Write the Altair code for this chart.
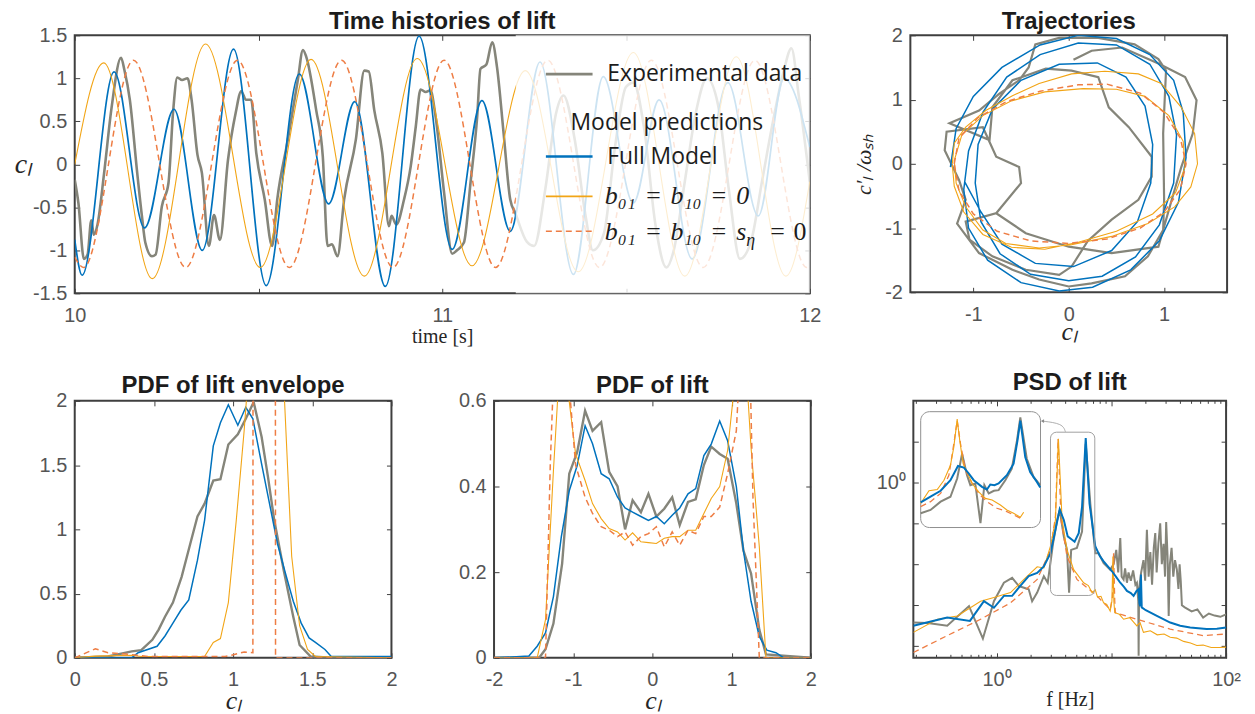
import altair as alt
import pandas as pd

# ---------------- colours ----------------
C_EXP = '#85857a'
C_FULL = '#0072bd'
C_B0 = '#f2a516'
C_BS = '#ee7d44'
FRAME = '#3f3f3f'
TXT = '#555555'
DARK = '#1c1c1c'

# ================= DATA =================
# --- Time histories of lift (t [s], c_l) ---
th_exp_t = [10.000,10.010,10.025,10.035,10.045,10.052,10.062,10.080,10.100,10.126,10.135,10.150,10.170,10.183,10.192,
            10.210,10.220,10.237,10.255,10.268,10.279,10.292,10.307,10.318,10.334,10.346,10.365,10.379,10.395,10.417,
            10.438,10.453,10.466,10.480,10.494,10.517,10.537,10.551,10.580,10.607,10.621,10.630,10.657,10.675,10.688,
            10.700,10.715,10.733,10.765,10.788,10.800,10.815,10.837,10.855,10.862,10.875,10.896,10.914,10.928,10.941,
            10.955,10.968,10.982,11.005,11.027,11.040,11.059,11.077,11.095,11.104,11.120,11.136,11.149,11.167,11.185,
            11.199,11.23,11.25,11.28,11.31,11.33,11.36,11.39,11.41,11.44,11.47,11.50,11.52,11.55,11.58,11.61,11.63,
            11.66,11.69,11.72,11.75,11.78,11.81,11.84,11.87,11.90,11.93,11.95,11.97,12.00]
th_exp_y = [-0.18,-0.45,-1.10,-1.05,-0.65,-0.82,-0.70,-0.10,0.65,1.24,1.10,0.75,-0.10,-0.61,-0.91,
            -1.07,-1.05,-0.49,-0.22,0.63,1.01,0.98,1.00,0.75,0.11,-0.10,-0.95,-0.59,-0.88,0.05,
            0.60,0.85,0.75,0.75,0.13,-0.41,-0.95,-0.41,0.29,0.98,1.33,1.25,0.63,0.09,-0.95,
            -0.93,-1.07,-0.41,0.29,1.09,1.08,0.63,0.13,-0.72,-0.60,-0.70,-0.41,-0.03,0.44,0.87,
            0.84,0.86,0.55,-0.33,-1.04,-1.00,-0.91,-0.21,0.55,1.11,1.16,1.42,1.13,0.36,-0.41,
            -0.57,-0.90,-0.95,-0.30,0.60,0.80,0.30,-0.60,-1.00,-0.80,0.20,0.90,0.95,0.40,-0.70,-1.20,-1.00,
            -0.20,0.60,1.00,0.70,-0.30,-1.10,-0.90,-0.20,0.50,1.10,1.35,0.80,-0.20]
th_full_t = [10.000,10.020,10.107,10.190,10.270,10.347,10.432,10.521,10.611,10.691,10.762,10.845,10.937,
             11.027,11.108,11.185,11.266,11.357,11.438,11.520,11.590,11.680,11.777,11.860,11.930,12.000]
th_full_y = [-0.875,-1.29,1.075,-0.74,0.64,-1.00,1.34,-1.41,1.05,-0.46,0.73,-1.42,1.49,
             -0.99,0.74,-0.78,1.19,-1.28,1.02,-0.45,0.75,-1.10,0.95,-0.60,1.00,0.20]
th_b0_t = [10.000,10.079,10.211,10.356,10.505,10.643,10.788,10.932,11.081,11.226,11.370,11.520,11.660,11.800,11.935,12.000]
th_b0_y = [0.00,1.18,-1.33,1.40,-1.20,1.22,-1.30,1.23,-1.18,1.09,-1.25,1.30,-1.30,1.25,-1.30,-0.20]
th_bs_t = [10.000,10.024,10.160,10.302,10.443,10.584,10.726,10.866,11.005,11.145,11.287,11.428,11.569,11.710,11.851,11.992,12.000]
th_bs_y = [-1.08,-1.20,1.21,-1.20,1.21,-1.20,1.21,-1.20,1.21,-1.20,1.21,-1.20,1.21,-1.20,1.21,-1.20,-1.19]
th_legend_box_t = [11.2, 12.0]
th_legend_box_y = [-1.5, 1.5]
leg_line_t = [11.282, 11.409]
leg_line_y = [1.048, 0.09, -0.373, -0.778]
leg_text_t = 11.449
leg_head_pos = (11.611, 0.477)
leg_math_t = 11.4425
leg_math_y = [-0.458, -0.875]

# --- Trajectories (c_l, c_l'/omega_sh) ---
traj_exp = [(-0.76,-0.77),(-0.50,-0.30),(-0.52,-0.05),(-0.76,0.11),(-0.90,0.57),(-1.28,0.50),(-1.30,0.21),(-1.15,-0.25),
            (-1.08,-0.56),(-1.17,-0.93),(-0.94,-1.39),(-0.59,-1.65),(-0.31,-1.80),(0.00,-1.91),(0.24,-1.86),(0.59,-1.75),
            (0.83,-1.44),(0.99,-1.03),(1.00,-0.56),(0.99,0.47),(1.02,1.45),(0.94,1.63),(0.69,1.86),(0.31,1.96),(-0.10,1.96),
            (-0.35,1.86),(-0.42,1.50),(-0.52,1.30),(-0.73,1.09),(-0.94,0.83),(-1.25,0.63),(-0.83,0.37),(-0.80,0.88),
            (-0.59,1.30),(-0.24,1.48),(0.03,1.45),(0.31,1.35),(0.42,0.88),(0.63,0.57),(0.87,0.11),(0.87,-0.20),(0.73,-0.56),
            (0.45,-0.87),(0.20,-1.20),(0.03,-1.60),(-0.10,-1.73),(-0.45,-1.65),(-0.80,-1.44),(-1.04,-1.18),(-1.08,-0.90),
            (-0.76,-0.77),(-0.45,-1.08),(0.00,-1.29),(0.45,-1.39),(0.94,-1.29),(1.08,-0.56),(1.18,-0.05),(1.30,0.47),
            (1.34,0.99),(1.22,1.35),(0.94,1.56),(0.56,1.81),(0.24,1.76),(0.05,1.62)]
traj_full = [(-1.24,-0.05),(-1.18,0.55),(-1.00,1.05),(-0.70,1.50),(-0.30,1.85),(0.10,2.00),(0.50,1.95),(0.85,1.70),
             (1.10,1.30),(1.20,0.80),(1.23,0.10),(1.15,-0.60),(0.95,-1.20),(0.65,-1.65),(0.25,-1.92),(-0.10,-1.98),
             (-0.50,-1.85),(-0.85,-1.50),(-1.05,-1.00),(-1.10,-0.40),(-1.05,0.20),(-0.90,0.80),(-0.65,1.35),(-0.30,1.70),
             (0.10,1.88),(0.50,1.85),(0.85,1.55),(1.05,1.05),(1.13,0.45),(1.10,-0.30),(0.95,-0.95),(0.70,-1.45),
             (0.35,-1.75),(0.00,-1.82),(-0.40,-1.72),(-0.72,-1.40),(-0.92,-0.90),(-0.98,-0.30),(-0.95,0.30),(-0.80,0.85),
             (-0.50,1.30),(-0.10,1.55),(0.30,1.57),(0.60,1.35),(0.80,0.90),(0.88,0.30),(0.86,-0.30),(0.72,-0.90),
             (0.45,-1.35),(0.05,-1.60),(-0.35,-1.55),(-0.70,-1.25),(-0.92,-0.75),(-1.09,-0.28)]
traj_b0 = [(-1.22,0.00),(-1.20,0.32),(-1.08,0.57),(-0.87,0.83),(-0.59,1.06),(-0.31,1.25),(0.03,1.40),(0.38,1.44),
           (0.73,1.40),(0.97,1.25),(1.18,0.88),(1.32,0.47),(1.35,0.00),(1.28,-0.36),(1.11,-0.67),(0.83,-0.93),
           (0.45,-1.13),(0.03,-1.26),(-0.31,-1.31),(-0.66,-1.24),(-0.90,-1.03),(-1.08,-0.67),(-1.18,-0.30),(-1.20,0.05),
           (-1.12,0.45),(-0.90,0.75),(-0.60,0.98),(-0.25,1.12),(0.15,1.17),(0.50,1.16),(0.80,1.05),(1.05,0.75),
           (1.20,0.35),(1.22,-0.05),(1.12,-0.45),(0.88,-0.78),(0.50,-1.05),(0.10,-1.22),(-0.25,-1.33),(-0.60,-1.30),
           (-0.90,-1.10),(-1.10,-0.75),(-1.20,-0.35),(-1.22,-0.02)]
traj_bs = [(-1.20,0.00),(-1.15,0.40),(-0.95,0.72),(-0.65,0.97),(-0.30,1.13),(0.10,1.23),(0.40,1.24),(0.75,1.10),
           (1.00,0.80),(1.17,0.40),(1.23,0.00),(1.17,-0.40),(1.00,-0.75),(0.75,-1.00),(0.40,-1.17),(0.00,-1.24),
           (-0.40,-1.20),(-0.75,-1.05),(-1.00,-0.78),(-1.15,-0.42),(-1.20,0.00)]

# --- PDF of lift envelope ---
env_exp_x = [0,0.21,0.36,0.42,0.49,0.53,0.57,0.62,0.675,0.73,0.775,0.82,0.875,0.92,0.97,1.03,1.08,1.13,1.18,1.22,
             1.26,1.32,1.38,1.42,1.49,1.62,2.0]
env_exp_y = [0,0.01,0.05,0.06,0.14,0.22,0.32,0.43,0.63,0.89,1.10,1.20,1.38,1.39,1.66,1.74,1.86,1.99,1.72,1.41,
             1.07,0.68,0.32,0.10,0.01,0,0]
env_full_x = [0,0.36,0.40,0.52,0.57,0.62,0.67,0.72,0.775,0.82,0.875,0.92,0.97,1.03,1.08,1.125,1.18,1.23,1.28,1.33,
              1.38,1.43,1.48,1.52,1.58,1.62,2.0]
env_full_y = [0,0,0.04,0.09,0.17,0.27,0.37,0.45,0.76,1.07,1.65,1.83,1.97,1.81,1.95,1.86,1.51,1.20,0.89,0.66,
              0.44,0.27,0.155,0.12,0.065,0.01,0.01]
env_b0_x = [0,0.13,0.36,0.42,0.82,0.875,0.92,0.97,1.02,1.07,1.12,1.22,1.31,1.37,1.42,1.47,1.52,2.0]
env_b0_y = [0,0.013,0.02,0.01,0.01,0.12,0.15,0.43,1.07,1.77,2.6,3.0,2.4,0.79,0.25,0.065,0.01,0]
env_bs_x = [0,0.13,0.21,0.36,0.47,0.95,0.99,1.07,1.125,1.127,1.266,1.268,2.0]
env_bs_y = [0,0.07,0.04,0.025,0.01,0.01,0.02,0.045,0.04,5,5,0,0]

# --- PDF of lift ---
pdf_exp_x = [-2,-1.43,-1.35,-1.25,-1.14,-1.05,-0.95,-0.85,-0.756,-0.647,-0.546,-0.44,-0.345,-0.25,-0.145,-0.05,
             0.05,0.15,0.25,0.345,0.45,0.547,0.65,0.743,0.85,0.95,1.06,1.15,1.246,1.35,1.434,2]
pdf_exp_y = [0,0,0.02,0.08,0.22,0.43,0.48,0.577,0.53,0.55,0.434,0.40,0.30,0.368,0.34,0.383,
             0.33,0.348,0.375,0.31,0.364,0.37,0.45,0.493,0.476,0.465,0.36,0.25,0.197,0.066,0.008,0]
pdf_full_x = [-2,-1.56,-1.455,-1.35,-1.25,-1.15,-1.05,-0.95,-0.85,-0.756,-0.647,-0.546,-0.44,-0.345,-0.25,-0.145,
              -0.05,0.05,0.15,0.25,0.345,0.45,0.547,0.65,0.743,0.85,0.95,1.06,1.15,1.246,1.35,1.445,1.56,1.66,2]
pdf_full_y = [0,0.004,0.027,0.058,0.143,0.283,0.39,0.449,0.542,0.50,0.43,0.418,0.375,0.35,0.34,0.33,
              0.321,0.33,0.313,0.333,0.35,0.383,0.395,0.472,0.499,0.553,0.507,0.40,0.25,0.132,0.05,0.018,0.012,0,0]
pdf_b0_x = [-2,-1.455,-1.35,-1.25,-1.15,-0.97,-0.85,-0.756,-0.647,-0.546,-0.44,-0.345,-0.25,-0.145,-0.05,0.05,
            0.15,0.25,0.345,0.45,0.547,0.65,0.743,0.85,0.95,1.10,1.15,1.246,1.35,1.434,2]
pdf_b0_y = [0,0,0.089,0.437,0.75,0.476,0.414,0.36,0.325,0.302,0.294,0.275,0.292,0.271,0.269,0.267,
            0.279,0.283,0.283,0.298,0.298,0.337,0.372,0.40,0.484,0.75,0.78,0.49,0.26,0,0]
pdf_bs_x = [-2,-1.35,-1.29,-1.20,-1.10,-0.97,-0.85,-0.756,-0.647,-0.546,-0.44,-0.345,-0.25,-0.145,-0.05,0.05,
            0.15,0.25,0.345,0.45,0.547,0.65,0.743,0.85,0.95,1.06,1.15,1.23,1.27,1.32,1.35,2]
pdf_bs_y = [0,0,0.45,0.9,0.75,0.45,0.375,0.337,0.306,0.298,0.283,0.294,0.263,0.283,0.29,0.306,
            0.259,0.294,0.263,0.298,0.29,0.33,0.33,0.352,0.43,0.53,0.85,0.7,0.375,0.143,0,0]

# --- PSD of lift: (log10 f [Hz], log10 PSD) ---
psd_exp = [(-0.725,-3.42),(-0.60,-3.43),(-0.43,-3.50),(-0.24,-3.02),(-0.119,-3.81),(-0.023,-2.90),(0.064,-2.45),
           (0.136,-2.33),(0.194,-2.53),(0.28,-2.61),(0.31,-2.90),(0.354,-2.69),(0.412,-2.29),(0.446,-2.45),(0.493,-1.48),
           (0.528,-0.92),(0.55,-0.68),(0.586,-1.32),(0.614,-1.65),(0.632,-2.69),(0.65,-1.65),(0.70,-1.60),(0.745,-1.20),
           (0.777,0.935),(0.817,-0.52),(0.86,-1.73),(0.89,-1.73),(0.933,-1.97),(0.99,-2.13),(1.02,-2.00),(1.043,-1.65),
           (1.06,-2.20),(1.078,-1.36),(1.09,-2.30),(1.107,-2.37),(1.12,-2.10),(1.136,-2.45),(1.15,-2.20),(1.17,-2.40),
           (1.19,-2.15),(1.21,-2.50),(1.223,-2.45),(1.235,-2.90),(1.238,-4.23),(1.242,-2.60),(1.26,-2.20),(1.28,-1.90),
           (1.295,-2.40),(1.31,-1.16),(1.325,-2.30),(1.34,-1.70),(1.355,-2.50),(1.37,-1.60),(1.383,-1.24),(1.395,-2.20),
           (1.41,-1.50),(1.426,-1.00),(1.44,-2.00),(1.455,-1.50),(1.468,-2.30),(1.478,-0.97),(1.49,-1.80),(1.50,-3.26),
           (1.51,-2.00),(1.525,-1.60),(1.54,-2.30),(1.555,-1.90),(1.571,-2.13),(1.585,-2.60),(1.595,-2.00),(1.605,-2.40),
           (1.615,-3.00),(1.64,-3.05),(1.70,-3.15),(1.75,-3.10),(1.80,-3.30),(1.85,-3.20),(1.90,-3.25),(1.95,-3.28),(2.00,-3.22)]
psd_full = [(-0.725,-3.50),(-0.43,-3.30),(-0.232,-3.38),(-0.11,-2.90),(-0.023,-3.06),(0.064,-2.77),(0.136,-2.77),
            (0.194,-2.57),(0.28,-2.29),(0.354,-2.21),(0.412,-2.05),(0.47,-1.73),(0.513,-1.16),(0.55,-0.66),(0.586,-0.92),
            (0.62,-1.32),(0.658,-1.40),(0.68,-1.45),(0.716,-1.24),(0.745,-0.60),(0.777,1.08),(0.81,-0.52),(0.86,-1.56),
            (0.90,-1.80),(0.933,-1.93),(0.97,-2.05),(1.006,-2.17),(1.04,-2.30),(1.078,-2.45),(1.11,-2.55),(1.136,-2.65),
            (1.17,-2.70),(1.194,-2.77),(1.22,-2.65),(1.238,-2.61),(1.245,-2.95),(1.252,-3.02),(1.258,-2.25),(1.265,-3.05),
            (1.30,-3.12),(1.397,-3.26),(1.513,-3.42),(1.60,-3.50),(1.687,-3.54),(1.83,-3.58),(1.92,-3.57),(2.0,-3.54)]
psd_b0 = [(-0.725,-3.66),(-0.516,-3.34),(-0.342,-3.26),(-0.139,-2.90),(-0.023,-2.81),(0.122,-2.69),(0.238,-2.37),
          (0.354,-2.06),(0.412,-2.09),(0.47,-1.56),(0.513,-0.92),(0.539,1.06),(0.571,-0.92),(0.614,-1.65),(0.672,-2.13),
          (0.759,-2.45),(0.80,-2.52),(0.832,-2.69),(0.86,-2.62),(0.88,-2.80),(0.91,-2.78),(0.933,-2.94),(0.96,-2.98),
          (0.99,-3.14),(1.005,-2.90),(1.014,-1.81),(1.022,-2.90),(1.03,-3.18),(1.07,-3.22),(1.107,-3.34),(1.16,-3.30),
          (1.223,-3.50),(1.25,-3.42),(1.28,-3.66),(1.34,-3.62),(1.40,-3.72),(1.46,-3.70),(1.513,-3.78),(1.57,-3.80),
          (1.63,-3.88),(1.69,-3.92),(1.745,-3.98),(1.80,-3.97),(1.87,-4.03),(1.94,-4.03),(2.0,-4.02)]
psd_bs = [(-0.725,-4.15),(-0.43,-3.74),(-0.139,-3.34),(0.122,-2.94),(0.354,-2.37),(0.47,-1.65),(0.513,-0.84),
          (0.536,1.06),(0.562,-0.92),(0.614,-1.81),(0.701,-2.37),(0.875,-2.77),(0.933,-2.94),(0.99,-3.10),(1.01,-2.80),
          (1.02,-1.73),(1.03,-2.90),(1.035,-3.18),(1.223,-3.34),(1.513,-3.58),(1.80,-3.74),(2.0,-3.70)]
# inset (magnified view of the two peaks), same units
ins_exp = [(0.396,-2.275),(0.434,-2.158),(0.473,-1.865),(0.511,-1.69),(0.537,-1.047),(0.556,-0.17),(0.575,-0.93),
           (0.588,-1.281),(0.607,-1.222),(0.627,-2.626),(0.642,-1.281),(0.659,-1.573),(0.679,-1.48),(0.697,-1.456),
           (0.723,-1.105),(0.748,-0.696),(0.768,0.298),(0.781,1.117),(0.791,0.532),(0.806,-0.345),(0.832,-0.988),(0.858,-1.281)]
ins_full = [(0.396,-1.889),(0.434,-1.69),(0.473,-1.48),(0.511,-1.105),(0.54,-0.602),(0.563,-0.661),(0.582,-0.871),
            (0.601,-1.105),(0.633,-1.339),(0.652,-1.433),(0.665,-1.257),(0.681,-1.281),(0.697,-1.222),(0.729,-0.93),
            (0.755,-0.52),(0.77,0.298),(0.781,1.0),(0.789,0.474),(0.80,-0.287),(0.819,-0.813),(0.845,-1.164),(0.858,-1.363)]
ins_b0 = [(0.396,-1.924),(0.428,-1.48),(0.46,-1.433),(0.486,-1.105),(0.511,-0.579),(0.524,0.064),(0.537,1.058),
          (0.547,0.298),(0.56,-0.52),(0.575,-0.813),(0.595,-1.222),(0.62,-1.515),(0.646,-1.749),(0.672,-1.807),
          (0.704,-1.982),(0.729,-2.158),(0.755,-2.275),(0.781,-2.415),(0.794,-2.24)]
ins_bs = [(0.396,-2.04),(0.434,-1.865),(0.473,-1.573),(0.505,-0.93),(0.524,0.18),(0.537,1.0),(0.55,0.18),
          (0.569,-0.754),(0.595,-1.222),(0.62,-1.573),(0.652,-1.865),(0.691,-2.099),(0.729,-2.216),(0.781,-2.45)]
ins_src_lf = [0.396, 0.859]
ins_src_lp = [-2.78, 1.32]
ins_dst_lf = [-0.661, 0.383]
ins_dst_lp = [-1.104, 1.72]
box_lf = [0.47, 0.856]
box_lp = [-2.76, 1.22]
arrow_pts = [(0.60, 1.23), (0.575, 1.43), (0.40, 1.49)]
psd_lf_dom = [-0.725, 2.0]
psd_lp_dom = [-4.28, 1.984]
psd_minor_f = [0.2, 0.3, 0.4, 0.5, 0.6, 0.7, 0.8, 0.9, 2, 3, 4, 5, 6, 7, 8, 9, 20, 30, 40, 50, 60, 70, 80, 90]

# ================= HELPERS =================
def seq(xs, ys):
    return pd.DataFrame({'x': xs, 'y': ys, 'i': list(range(len(xs)))})

def pts(p):
    return seq([a for a, _ in p], [b for _, b in p])

def sc(dom, t='linear'):
    return alt.Scale(domain=dom, nice=False, zero=False, type=t)

AXC = dict(domain=False, grid=False, tickColor=FRAME, tickWidth=1, tickSize=5, offset=-5)

def ax_main(orient, values, expr, **kw):
    d = dict(AXC)
    d.update(orient=orient, values=values, labelExpr=expr, labelFont='Liberation Sans', labelFontSize=20,
             labelColor=TXT, labelOverlap=False, labelFlush=False,
             labelPadding=8 if orient == 'left' else 12, title=None)
    d.update(kw)
    return alt.Axis(**d)

def ax_mirror(orient, values):
    d = dict(AXC)
    d.update(orient=orient, values=values, labels=False, title=None)
    return alt.Axis(**d)

def base(df, calc=None):
    ch = alt.Chart(df)
    if calc:
        ch = ch.transform_calculate(**calc)
    return ch

def line(df, xs, ys, color, width, dash=None, interp='linear', ordered=False, clip=True, calc=None, xf='x', yf='y'):
    mk = dict(color=color, strokeWidth=width, interpolate=interp, clip=clip)
    if dash:
        mk['strokeDash'] = dash
    enc = dict(x=alt.X(f'{xf}:Q', scale=xs, axis=None), y=alt.Y(f'{yf}:Q', scale=ys, axis=None))
    if ordered:
        enc['order'] = alt.Order('i:Q')
    return base(df, calc).mark_line(**mk).encode(**enc)

def axes(df, xs, ys, xax, yax, calc=None, xf='x', yf='y'):
    return base(df, calc).mark_point(opacity=0, clip=True).encode(
        x=alt.X(f'{xf}:Q', scale=xs, axis=xax), y=alt.Y(f'{yf}:Q', scale=ys, axis=yax))

def panel(layers, title, w, h, toff):
    return alt.layer(*layers).resolve_axis(x='independent', y='independent').properties(
        width=w, height=h,
        title=alt.TitleParams(title, font='Liberation Sans', fontSize=24, fontWeight='bold', color=DARK,
                              offset=toff, anchor='middle', frame='group'))

SERIF = 'Liberation Serif'
SP = '\u2004'

def xtitle(text, ty, italic=True, size=26):
    d = dict(title=text, titleFont=SERIF, titleFontSize=size, titleFontWeight='normal', titleColor='#262626',
             titleBaseline='alphabetic', titleY=ty)
    if italic:
        d['titleFontStyle'] = 'italic'
    return d

ytitle_cl = dict(title='cₗ', titleFont=SERIF, titleFontStyle='italic', titleFontSize=28, titleFontWeight='normal',
                 titleColor='#262626', titleAngle=0, titleAlign='center', titleBaseline='middle',
                 titleX=-57, titleY=129.5)

# ================= TIME HISTORIES =================
xs_t = sc([10, 12]); ys_t = sc([-1.5, 1.5])
t_xvals = [10, 10.5, 11, 11.5, 12]
t_yvals = [-1.5, -1, -0.5, 0, 0.5, 1, 1.5]
d_exp = seq(th_exp_t, th_exp_y)
time_layers = [
    line(d_exp, xs_t, ys_t, C_EXP, 2.6, interp='monotone'),
    line(seq(th_full_t, th_full_y), xs_t, ys_t, C_FULL, 1.7, interp='monotone'),
    line(seq(th_b0_t, th_b0_y), xs_t, ys_t, C_B0, 1.1, interp='monotone'),
    line(seq(th_bs_t, th_bs_y), xs_t, ys_t, C_BS, 1.5, dash=[6, 4], interp='monotone'),
    alt.Chart(pd.DataFrame({'x': [th_legend_box_t[0]], 'x2': [th_legend_box_t[1]],
                            'y': [th_legend_box_y[0]], 'y2': [th_legend_box_y[1]]}))
       .mark_rect(color='white', opacity=0.8)
       .encode(x=alt.X('x:Q', scale=xs_t, axis=None), x2='x2:Q',
               y=alt.Y('y:Q', scale=ys_t, axis=None), y2='y2:Q'),
]
leg_styles = [(C_EXP, 2.8, None), (C_FULL, 2.6, None), (C_B0, 1.6, None), (C_BS, 1.6, [6, 4])]
for (col, wdt, dsh), yy in zip(leg_styles, leg_line_y):
    mk = dict(color=col, strokeWidth=wdt)
    if dsh:
        mk['strokeDash'] = dsh
    time_layers.append(
        alt.Chart(pd.DataFrame({'x': [leg_line_t[0]], 'x2': [leg_line_t[1]], 'y': [yy]}))
        .mark_rule(**mk)
        .encode(x=alt.X('x:Q', scale=xs_t, axis=None), x2='x2:Q', y=alt.Y('y:Q', scale=ys_t, axis=None)))

def tlabel(df, size, font, align='left', baseline='middle', style='normal', dx=0, dy=0, color=DARK):
    return alt.Chart(df).mark_text(align=align, baseline=baseline, font=font, fontSize=size, fontStyle=style,
                                   color=color, dx=dx, dy=dy).encode(
        x=alt.X('x:Q', scale=xs_t, axis=None), y=alt.Y('y:Q', scale=ys_t, axis=None), text='s:N')

time_layers += [
    tlabel(pd.DataFrame({'x': [leg_text_t, leg_text_t], 'y': [leg_line_y[0], leg_line_y[1]],
                         's': ['Experimental data', 'Full Model']}), 23, 'Open Sans'),
    tlabel(pd.DataFrame({'x': [leg_head_pos[0]], 'y': [leg_head_pos[1]], 's': ['Model predictions']}),
           23, 'Open Sans', align='center'),
    tlabel(pd.DataFrame({'x': [leg_math_t, leg_math_t], 'y': leg_math_y,
                         's': [f'b₀₁{SP}={SP}b₁₀{SP}={SP}0', f'b₀₁{SP}={SP}b₁₀{SP}={SP}s']}),
           26, SERIF, baseline='alphabetic', style='italic'),
    tlabel(pd.DataFrame({'x': [leg_math_t], 'y': [leg_math_y[1]], 's': ['η']}), 18, SERIF,
           baseline='alphabetic', style='italic', dx=142, dy=6),
    tlabel(pd.DataFrame({'x': [leg_math_t], 'y': [leg_math_y[1]], 's': [f'={SP}0']}), 26, SERIF,
           baseline='alphabetic', dx=166),
    axes(d_exp, xs_t, ys_t,
         ax_main('bottom', t_xvals, "datum.value % 1 == 0 ? '' + datum.value : ''",
                 **xtitle('time [s]', 54, italic=False, size=20)),
         ax_main('left', t_yvals, "'' + datum.value", **ytitle_cl)),
    axes(d_exp, xs_t, ys_t, ax_mirror('top', t_xvals), ax_mirror('right', t_yvals)),
]
time_chart = panel(time_layers, 'Time histories of lift', 738, 259, -9)

# ================= TRAJECTORIES =================
xs_r = sc([-1.66, 1.66]); ys_r = sc([-2, 2])
r_xvals = [-1, 0, 1]; r_yvals = [-2, -1, 0, 1, 2]
d_rexp = pts(traj_exp)
traj_layers = [
    line(d_rexp, xs_r, ys_r, C_EXP, 2.2, ordered=True),
    line(pts(traj_full), xs_r, ys_r, C_FULL, 1.5, ordered=True),
    line(pts(traj_b0), xs_r, ys_r, C_B0, 1.1, ordered=True),
    line(pts(traj_bs), xs_r, ys_r, C_BS, 1.5, dash=[6, 4], ordered=True),
    axes(d_rexp, xs_r, ys_r,
         ax_main('bottom', r_xvals, "'' + datum.value", **xtitle('cₗ', 52)),
         ax_main('left', r_yvals, "'' + datum.value", title='c′ₗ /ωₛₕ', titleFont=SERIF, titleFontStyle='italic',
                 titleFontSize=22, titleFontWeight='normal', titleColor='#262626', titleAngle=270,
                 titleAlign='center', titleBaseline='middle', titleX=-52, titleY=129)),
    axes(d_rexp, xs_r, ys_r, ax_mirror('top', r_xvals), ax_mirror('right', r_yvals)),
]
traj_chart = panel(traj_layers, 'Trajectories', 318, 258, -9)

# ================= PDF OF LIFT ENVELOPE =================
xs_e = sc([0, 2]); ys_e = sc([0, 2])
e_vals = [0, 0.5, 1, 1.5, 2]
d_eexp = seq(env_exp_x, env_exp_y)
env_layers = [
    line(d_eexp, xs_e, ys_e, C_EXP, 2.4),
    line(seq(env_full_x, env_full_y), xs_e, ys_e, C_FULL, 1.5),
    line(seq(env_b0_x, env_b0_y), xs_e, ys_e, C_B0, 1.1),
    line(seq(env_bs_x, env_bs_y), xs_e, ys_e, C_BS, 1.5, dash=[6, 4]),
    # invisible copy of the top-left axis title keeps both rows left-aligned
    axes(d_eexp, xs_e, ys_e, ax_main('bottom', e_vals, "'' + datum.value", **xtitle('cₗ', 56)),
         ax_main('left', e_vals, "'' + datum.value", titleOpacity=0, **ytitle_cl)),
    axes(d_eexp, xs_e, ys_e, ax_mirror('top', e_vals), ax_mirror('right', e_vals)),
]
env_chart = panel(env_layers, 'PDF of lift envelope', 318, 258, -7)

# ================= PDF OF LIFT =================
xs_p = sc([-2, 2]); ys_p = sc([0, 0.6])
p_xvals = [-2, -1, 0, 1, 2]; p_yvals = [0, 0.2, 0.4, 0.6]
d_pexp = seq(pdf_exp_x, pdf_exp_y)
pdf_layers = [
    line(d_pexp, xs_p, ys_p, C_EXP, 2.4),
    line(seq(pdf_full_x, pdf_full_y), xs_p, ys_p, C_FULL, 1.5),
    line(seq(pdf_b0_x, pdf_b0_y), xs_p, ys_p, C_B0, 1.1),
    line(seq(pdf_bs_x, pdf_bs_y), xs_p, ys_p, C_BS, 1.5, dash=[6, 4]),
    axes(d_pexp, xs_p, ys_p, ax_main('bottom', p_xvals, "'' + datum.value", **xtitle('cₗ', 56)),
         ax_main('left', p_yvals, "'' + datum.value")),
    axes(d_pexp, xs_p, ys_p, ax_mirror('top', p_xvals), ax_mirror('right', p_yvals)),
]
pdf_chart = panel(pdf_layers, 'PDF of lift', 318, 258, -7)

# ================= PSD OF LIFT =================
xs_s = sc([10 ** psd_lf_dom[0], 10 ** psd_lf_dom[1]], 'log')
ys_s = sc([10 ** psd_lp_dom[0], 10 ** psd_lp_dom[1]], 'log')
s_xvals = [1, 10, 100]
s_yvals = [0.0001, 0.001, 0.01, 0.1, 1, 10]
main_calc = dict(f='pow(10, datum.x)', P='pow(10, datum.y)')
kx = (ins_dst_lf[1] - ins_dst_lf[0]) / (ins_src_lf[1] - ins_src_lf[0])
ky = (ins_dst_lp[1] - ins_dst_lp[0]) / (ins_src_lp[1] - ins_src_lp[0])
ins_calc = dict(
    f=f'pow(10, {ins_dst_lf[0]} + (datum.x - {ins_src_lf[0]}) * {kx})',
    P=f'pow(10, {ins_dst_lp[0]} + (datum.y - {ins_src_lp[0]}) * {ky})')

def rect_layer(lf, lp, **mk):
    df = pd.DataFrame({'a': [lf[0]], 'b': [lf[1]], 'c': [lp[0]], 'd': [lp[1]]})
    return alt.Chart(df).transform_calculate(
        f='pow(10, datum.a)', f2='pow(10, datum.b)', P='pow(10, datum.c)', P2='pow(10, datum.d)'
    ).mark_rect(**mk).encode(x=alt.X('f:Q', scale=xs_s, axis=None), x2='f2:Q',
                             y=alt.Y('P:Q', scale=ys_s, axis=None), y2='P2:Q')

def minor_ticks(y0, y1):
    return alt.Chart(pd.DataFrame({'f': psd_minor_f})).mark_rule(color=FRAME, strokeWidth=1).encode(
        x=alt.X('f:Q', scale=xs_s, axis=None), y=alt.value(y0), y2=alt.value(y1))

PSD_H = 258
d_sexp = pts(psd_exp)
psd_layers = [
    line(d_sexp, xs_s, ys_s, C_EXP, 2.0, calc=main_calc, xf='f', yf='P'),
    line(pts(psd_bs), xs_s, ys_s, C_BS, 1.3, dash=[6, 4], calc=main_calc, xf='f', yf='P'),
    line(pts(psd_b0), xs_s, ys_s, C_B0, 1.1, calc=main_calc, xf='f', yf='P'),
    line(pts(psd_full), xs_s, ys_s, C_FULL, 2.0, calc=main_calc, xf='f', yf='P'),
    rect_layer(box_lf, box_lp, fillOpacity=0, stroke='#a0a0a0', strokeWidth=1, cornerRadius=6),
    rect_layer(ins_dst_lf, ins_dst_lp, fill='white', stroke='#8f8f8f', strokeWidth=1, cornerRadius=9),
    line(pts(ins_exp), xs_s, ys_s, C_EXP, 2.0, calc=ins_calc, xf='f', yf='P'),
    line(pts(ins_bs), xs_s, ys_s, C_BS, 1.3, dash=[6, 4], calc=ins_calc, xf='f', yf='P'),
    line(pts(ins_b0), xs_s, ys_s, C_B0, 1.1, calc=ins_calc, xf='f', yf='P'),
    line(pts(ins_full), xs_s, ys_s, C_FULL, 2.0, calc=ins_calc, xf='f', yf='P'),
    line(pts(arrow_pts), xs_s, ys_s, '#9a9a9a', 0.8, interp='basis', ordered=True, calc=main_calc, xf='f', yf='P'),
    base(pts(arrow_pts[-1:]), main_calc).mark_point(shape='triangle-left', filled=True, color='#8a8a8a', size=14,
                                                    opacity=1).encode(
        x=alt.X('f:Q', scale=xs_s, axis=None), y=alt.Y('P:Q', scale=ys_s, axis=None)),
    minor_ticks(PSD_H, PSD_H - 3),
    minor_ticks(0, 3),
    axes(d_sexp, xs_s, ys_s,
         ax_main('bottom', s_xvals, "datum.value == 1 ? '10⁰' : (datum.value == 100 ? '10²' : '')",
                 **xtitle('f [Hz]', 53, italic=False, size=20)),
         ax_main('left', s_yvals, "datum.value == 1 ? '10⁰' : ''"), calc=main_calc, xf='f', yf='P'),
    axes(d_sexp, xs_s, ys_s, ax_mirror('top', s_xvals), ax_mirror('right', s_yvals), calc=main_calc, xf='f', yf='P'),
]
psd_chart = panel(psd_layers, 'PSD of lift', 314, PSD_H, 5)

# ================= LAYOUT =================
top = alt.hconcat(time_chart, traj_chart, spacing=101, bounds='flush')
bottom = alt.hconcat(env_chart, pdf_chart, psd_chart, spacing=103, bounds='flush')
chart = alt.vconcat(top, bottom, spacing=23).properties(
    padding={'left': 5, 'top': 0, 'right': 5, 'bottom': 5}, background='white'
).configure_view(stroke=FRAME, strokeWidth=2)

chart.save('out.html', embed_options={'renderer': 'svg', 'actions': False})
